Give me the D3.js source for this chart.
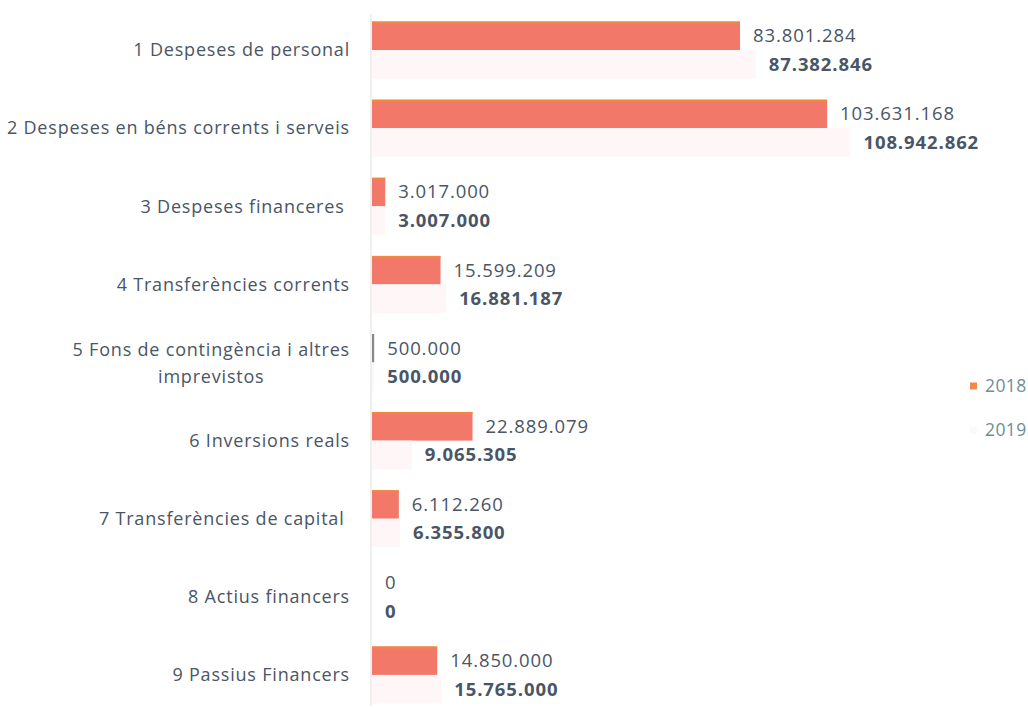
<!DOCTYPE html>
<html>
<head>
<meta charset="utf-8">
<script src="https://cdn.jsdelivr.net/npm/d3@7"></script>
<style>
  html, body { margin: 0; padding: 0; background: #ffffff; }
  svg { display: block; }
</style>
</head>
<body>
<svg id="chart" width="1028" height="708"></svg>
<script>
const categories = [
  "1 Despeses de personal",
  "2 Despeses en béns corrents i serveis",
  "3 Despeses financeres ",
  "4 Transferències corrents",
  "5 Fons de contingència i altres|imprevistos",
  "6 Inversions reals",
  "7 Transferències de capital ",
  "8 Actius financers",
  "9 Passius Financers"
];
const series = ["2018", "2019"];
const values2018 = [83801284, 103631168, 3017000, 15599209, 500000, 22889079, 6112260, 0, 14850000];
const values2019 = [87382846, 108942862, 3007000, 16881187, 500000, 9065305, 6355800, 0, 15765000];
const valueLabels2018 = ["83.801.284", "103.631.168", "3.017.000", "15.599.209", "500.000", "22.889.079", "6.112.260", "0", "14.850.000"];
const valueLabels2019 = ["87.382.846", "108.942.862", "3.007.000", "16.881.187", "500.000", "9.065.305", "6.355.800", "0", "15.765.000"];

const svg = d3.select("#chart");
const textColor = "#4a5566";
const font = "'Open Sans', sans-serif";

const x = d3.scaleLinear().domain([0, 120000000]).range([372, 899]);
const y = d3.scaleBand().domain(categories).range([11, 714]);
const groupH = y.bandwidth() * 0.73;
const y1 = d3.scaleBand().domain(series).range([0, groupH]);
const groupOff = (y.bandwidth() - groupH) / 2;

const colors = { "2018": "#f2796a", "2019": "#fef6f7" };
const strokeColors = { "2018": "#f0883c" };

const rows = categories.map((c, i) => ({
  cat: c,
  vals: [
    { s: "2018", v: values2018[i], lbl: valueLabels2018[i] },
    { s: "2019", v: values2019[i], lbl: valueLabels2019[i] }
  ]
}));

// axis line
svg.append("line")
  .attr("x1", x(0) - 1).attr("x2", x(0) - 1)
  .attr("y1", 14).attr("y2", 706)
  .attr("stroke", "#e4e4e4").attr("stroke-width", 1.2);

const g = svg.selectAll("g.row").data(rows).join("g")
  .attr("class", "row")
  .attr("transform", d => `translate(0,${y(d.cat) + groupOff})`);

g.selectAll("rect").data(d => d.vals).join("rect")
  .attr("x", x(0))
  .attr("y", d => y1(d.s))
  .attr("width", d => Math.max(x(d.v) - x(0), d.v > 0 ? 1.5 : 0))
  .attr("height", y1.bandwidth())
  .attr("fill", d => d.s === "2018" && d.v < 1000000 ? "#8a8a8a" : colors[d.s]);

// orange top edge for 2018 bars
g.selectAll("line.edge").data(d => d.vals.filter(v => v.s === "2018" && v.v > 1000000)).join("line")
  .attr("class", "edge")
  .attr("x1", x(0)).attr("x2", d => x(d.v))
  .attr("y1", d => y1(d.s) + 1).attr("y2", d => y1(d.s) + 1)
  .attr("stroke", strokeColors["2018"]).attr("stroke-width", 2);

g.selectAll("text.val").data(d => d.vals).join("text")
  .attr("class", "val")
  .attr("x", d => x(d.v) + 13)
  .attr("y", d => y1(d.s) + y1.bandwidth() / 2)
  .attr("dy", "0.35em")
  .attr("font-family", font)
  .attr("font-size", 18.5)
  .attr("letter-spacing", 0.9)
  .attr("font-weight", d => d.s === "2019" ? 700 : 400)
  .attr("fill", textColor)
  .text(d => d.lbl);

// category labels
const catG = svg.selectAll("text.cat").data(categories).join("text")
  .attr("class", "cat")
  .attr("font-family", font)
  .attr("font-size", 18)
  .attr("letter-spacing", 0.8)
  .attr("fill", textColor)
  .attr("xml:space", "preserve")
  .style("white-space", "pre");

catG.each(function(c) {
  const t = d3.select(this);
  const parts = c.split("|");
  const cy = y(c) + y.bandwidth() / 2;
  if (parts.length === 1) {
    t.attr("x", 350).attr("y", cy).attr("dy", "0.35em").attr("text-anchor", "end").text(parts[0]);
  } else {
    const t1 = t.append("tspan").attr("x", 350).attr("y", cy - 13).attr("dy", "0.35em")
      .attr("text-anchor", "end").text(parts[0]);
    const w = t1.node().getComputedTextLength();
    t.append("tspan").attr("x", 350 - w / 2).attr("y", cy + 14).attr("dy", "0.35em")
      .attr("text-anchor", "middle").text(parts[1]);
  }
});

// legend
const legend = svg.append("g").attr("transform", "translate(970,386)");
series.forEach((s, i) => {
  const lg = legend.append("g").attr("transform", `translate(0,${i * 44})`);
  lg.append("rect").attr("x", 0).attr("y", -3.5).attr("width", 7).attr("height", 7)
    .attr("fill", s === "2018" ? "#ee8a4a" : "#fef8f8");
  lg.append("text").attr("x", 15).attr("y", 0).attr("dy", "0.35em")
    .attr("font-family", font)
    .attr("font-size", 17.5)
    .attr("letter-spacing", 0.4)
    .attr("fill", "#6c8e96")
    .text(s);
});
</script>
</body>
</html>
